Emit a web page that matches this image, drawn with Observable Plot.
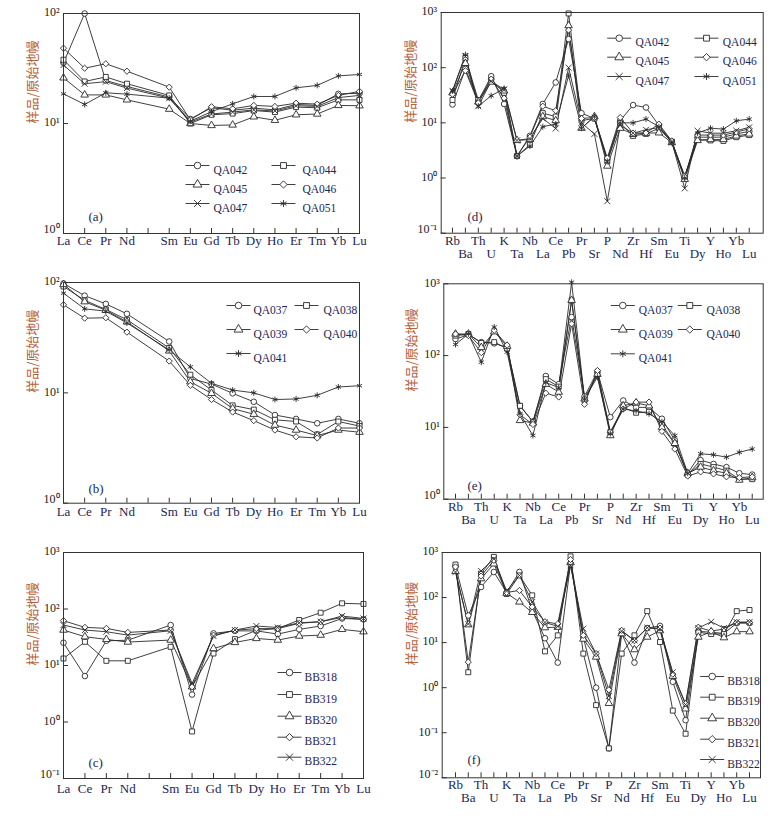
<!DOCTYPE html>
<html><head><meta charset="utf-8">
<script src="https://cdn.jsdelivr.net/npm/d3@7"></script>
<script src="https://cdn.jsdelivr.net/npm/@observablehq/plot@0.6"></script>
<style>
body{margin:0;background:#fff;}
#wrap{position:relative;width:781px;height:816px;background:#fff;overflow:hidden;}
#wrap svg{position:absolute;}
</style></head><body><div id="wrap"></div>
<script>
// ---------- category / tick labels ----------
const reeTicks = ["La","Ce","Pr","Nd","","Sm","Eu","Gd","Tb","Dy","Ho","Er","Tm","Yb","Lu"];
const reePos = [0,1,2,3,5,6,7,8,9,10,11,12,13,14];
const spiderTicks = ["Rb","Ba","Th","U","K","Ta","Nb","La","Ce","Pb","Pr","Sr","P","Nd","Zr","Hf","Sm","Eu","Ti","Dy","Y","Ho","Yb","Lu"];
const spiderPos = spiderTicks.map((d,i)=>i);
const yLabel = "样品/原始地幔";

// ---------- sample names ----------
const samplesQA1 = ["QA042","QA044","QA045","QA046","QA047","QA051"];
const samplesQA2 = ["QA037","QA038","QA039","QA040","QA041"];
const samplesBB = ["BB318","BB319","BB320","BB321","BB322"];
const symbols6 = ["circle","square","triangle","diamond2","times","asterisk"];
const symbols5a = ["circle","square","triangle","diamond2","asterisk"];
const symbols5b = ["circle","square","triangle","diamond2","times"];

// ---------- (a) REE, La..Lu (no Pm) ----------
const a_QA042 = [35.6,100,24.6,21.7,17.4,11.0,13.9,13.2,13.8,13.3,14.9,14.6,18.6,18.8];
const a_QA044 = [38,24.1,26.5,23.0,18.0,10.0,12.0,12.3,13.1,12.7,14.1,13.9,16.4,16.4];
const a_QA045 = [26,18.2,18.2,16.4,13.5,10.0,9.6,9.7,11.5,10.7,12.0,12.2,14.6,14.5];
const a_QA046 = [48.4,31.8,34.9,29.9,21.4,10.8,14.2,13.6,14.6,14.3,15.3,15.0,18.0,19.6];
const a_QA047 = [34,23,24,21,17,10.3,12.2,12.7,13.3,13.0,14.5,14.3,17.2,18.0];
const a_QA051 = [18.6,14.9,19.0,18.5,17.0,10.5,12.8,15.1,17.6,17.6,21.1,22.2,27.1,27.9];

// ---------- (b) REE ----------
const b_QA037 = [98,76,64,52,29.2,13.5,12.0,9.9,8.3,6.3,5.8,5.3,5.8,5.3];
const b_QA038 = [92,69,57,46,25.5,14.6,10.6,7.7,7.05,5.7,5.5,4.2,5.5,5.0];
const b_QA039 = [96,67,56,44,24,12.6,9.9,7.2,6.4,5.1,4.6,4.1,4.6,4.4];
const b_QA040 = [62.8,47.5,47.9,35.5,19.4,11.7,8.7,6.7,5.6,4.6,4.0,3.9,4.8,4.8];
const b_QA041 = [80,57.7,55,43,24.5,17.2,12.2,10.6,10.0,8.7,8.8,9.5,11.3,11.6];

// ---------- (c) REE ----------
const c_BB318 = [25.3,6.5,27.4,28,52,3.06,37,41,41,36,43.6,50,68,65.6];
const c_BB319 = [13.3,26.3,12.1,12.1,21.4,0.68,16.3,29.3,42,45,63.8,86,126,123];
const c_BB320 = [42.4,32.3,29,26,28.2,4.2,20,25.6,30.1,28.2,33.2,34.5,43.6,39.6];
const c_BB321 = [62,47.3,45.4,38.5,42.4,4.2,34.5,42,45,45,55.7,59.6,71,65];
const c_BB322 = [52,42.4,39.6,34.5,41.2,4.8,33.2,42.4,50,47,57,59.6,75,68];

// ---------- (d) spider, Rb..Lu ----------
const d_QA042 = [21.5,95,25,70,22,2.5,5.8,22,54,330,15,12,2.2,11,21,19,9,4.6,1.0,5.5,5.5,5.5,6.3,7];
const d_QA044 = [26,150,26,60,35,2.5,4.0,15,13,960,11,12,2.0,10,5.8,6.3,8,4.5,1.1,5.0,4.8,4.7,5.5,6];
const d_QA045 = [35,120,24,55,38,4.8,5.0,13,11,580,8,13,1.65,8,6.2,6.5,6.6,4.4,0.95,4.8,5.0,5.0,5.8,6.3];
const d_QA046 = [33,88,23,62,28,2.5,5.5,20,16.6,480,12,12.5,2.3,12.5,6.5,6.6,9.5,4.7,1.05,6.0,6.0,6.0,6.8,7.8];
const d_QA047 = [38,160,20,57,40,4.8,5.2,12,7.9,100,10,6.3,0.38,9,6.5,7.5,8.2,4.5,0.65,7.2,6.5,6.5,7.2,8.3];
const d_QA051 = [38,172,20,31,42,2.5,3.8,8.5,9.5,72,8,13,2.0,10,10,11.7,8.5,4.4,1.0,6.5,8.0,7.7,10.9,11.7];

// ---------- (e) spider ----------
const e_QA037 = [170,195,154,148,130,20,12,52,40,344,27,60,13.9,23.7,19,19,13.2,6.6,2.2,3.5,3.1,2.8,2.3,2.2];
const e_QA038 = [190,200,150,154,125,20,12,47,37,586,24,55,8.6,19,16,16.5,11,6,2.2,3.1,2.8,2.5,1.9,1.9];
const e_QA039 = [200,200,130,215,135,12.5,11.5,40,31,590,25,55,7.7,20,22,20,10,6,2.3,2.8,2.5,2.3,1.85,2.0];
const e_QA040 = [200,190,110,225,140,15,11,30,26.5,277,21,62,8.6,18,22.5,22.5,8.8,5.0,2.1,2.4,2.25,2.05,2.0,2.05];
const e_QA041 = [143,200,81,250,112,15.5,7.7,42,36,1050,25,50,8.2,18,17,15.5,12,7.7,2.3,4.3,4.15,3.85,4.5,5.0];

// ---------- (f) spider ----------
const f_BB318 = [500,40,171,369,130,370,52,12.5,3.6,560,13,1.0,0.045,16,3.6,21,23.5,1.35,0.19,17.8,17,16,27,27];
const f_BB319 = [540,2.2,340,800,120,310,112,6.4,14.5,820,5.7,0.41,0.045,5.7,14.5,50,10.3,0.31,0.095,17,15.5,15.5,50,53];
const f_BB320 = [380,25,263,560,125,80,47,21.5,22,600,12,4.8,0.45,15.8,7.0,13.3,18.5,1.8,0.34,13.3,17.5,12.9,17.5,17.5];
const f_BB321 = [480,3.7,300,670,130,144,62,29,26,700,14.5,5.7,0.9,18.7,11,21,21,2.0,0.44,22,18,20,28,28];
const f_BB322 = [370,26,390,720,140,310,80,28,23,520,20.4,5.7,0.65,18,11.2,21.4,20,2.2,0.42,21,29,21,28.6,28.6];

// ---------- styling ----------
const INK = "#2a2a2a";
const NAVY = "#1d2650";
const LABELC = "#b4643c";
const SERIF = "'Liberation Serif','Times New Roman',serif";
const hline = {draw(ctx){ ctx.moveTo(-12,0); ctx.lineTo(12,0); }};
function sup(v){
  const m = {"-":"⁻","0":"⁰","1":"¹","2":"²","3":"³"};
  return "10" + String(Math.round(Math.log10(v))).split("").map(c=>m[c]).join("");
}

function panel(cfg){
  const {box, frame} = cfg;
  const mL = frame.l - box.x, mR = box.x + box.w - frame.r, mT = frame.t - box.y, mB = box.y + box.h - frame.b;
  const rows = [];
  cfg.series.forEach((vals, s) => vals.forEach((v,k) => rows.push({sample: cfg.names[s], i: cfg.pos[k], v})));
  const ticks = cfg.tickLabels.map((t,i)=>({t,i})).filter(d=>d.t);
  const yMin = cfg.yTicks[0];
  const marks = [
    Plot.line(rows, {x:"i", y:"v", z:"sample", stroke:INK, strokeWidth:0.9}),
    Plot.dot(rows, {x:"i", y:"v", symbol:"sample", r:2.8, stroke:INK, strokeWidth:0.9, fill:"white"}),
    Plot.frame({stroke:"#333", strokeWidth:1}),
    Plot.axisX({ticks: d3.range(cfg.tickLabels.length), tickSize:-5, tickFormat:()=>"", label:null, color:"#333"}),
    Plot.axisY({ticks: cfg.yTicks, tickSize:-5, tickFormat:()=>"", label:null, color:"#333"}),
    Plot.text(cfg.yTicks.filter(t=>t!==yMin), {y:d=>d, text:sup, frameAnchor:"left", dx:-4, dy:-1, textAnchor:"end", fontSize:12, fill:"#222"}),
    Plot.text([yMin], {y:d=>d, text:sup, frameAnchor:"left", dx:-4, dy:-4, textAnchor:"end", fontSize:12, fill:"#222"}),
    Plot.text([yLabel], {frameAnchor:"left", dx:cfg.yLabelDx, rotate:-90, text:d=>d, fontSize:13, fill:LABELC, fontFamily:"'Noto Sans CJK SC',sans-serif"}),
    Plot.text([cfg.letter], {frameAnchor:"top-left", dx:cfg.letterPos[0]-frame.l, dy:cfg.letterPos[1]-frame.t, text:d=>d, fontSize:13, fill:NAVY})
  ];
  if (cfg.twoRow){
    marks.push(Plot.text(ticks.filter(d=>d.i%2===0), {x:"i", text:"t", frameAnchor:"bottom", dy:cfg.labelDy, fontSize:13, fill:NAVY}));
    marks.push(Plot.text(ticks.filter(d=>d.i%2===1), {x:"i", text:"t", frameAnchor:"bottom", dy:cfg.labelDy2, fontSize:13, fill:NAVY}));
  } else {
    marks.push(Plot.text(ticks, {x:"i", text:"t", frameAnchor:"bottom", dy:cfg.labelDy, fontSize:13, fill:NAVY}));
  }
  const nc = cfg.legend.cols.length;
  cfg.names.forEach((name, s) => {
    const col = cfg.legend.cols[s % nc], rowY = cfg.legend.rows[Math.floor(s / nc)];
    const dx = col[0] - frame.l, dy = rowY - frame.t;
    marks.push(Plot.dot([0], {frameAnchor:"top-left", dx, dy, symbol:hline, r:3, stroke:INK, strokeWidth:0.9, fill:"none"}));
    marks.push(Plot.dot([0], {frameAnchor:"top-left", dx, dy, symbol:cfg.symbols[s], r:3.3, stroke:INK, strokeWidth:0.9, fill:"white"}));
    marks.push(Plot.text([name], {frameAnchor:"top-left", dx:col[1]-frame.l, dy, text:d=>d, textAnchor:"start", fontSize:11.5, fill:NAVY}));
  });
  const svg = Plot.plot({
    width: box.w, height: box.h,
    marginLeft: mL, marginRight: mR, marginTop: mT, marginBottom: mB,
    x: {domain: cfg.xDomain, axis: null},
    y: {type: "log", domain: cfg.yDomain, axis: null},
    symbol: {domain: cfg.names, range: cfg.symbols},
    style: {fontFamily: SERIF, background: "white", overflow: "visible"},
    marks
  });
  svg.style.left = box.x + "px";
  svg.style.top = box.y + "px";
  document.getElementById("wrap").appendChild(svg);
}

panel({
  box:{x:0,y:0,w:390,h:270}, frame:{l:63,r:359,t:13,b:233},
  xDomain:[0,14], yDomain:[1,100], yTicks:[1,10,100],
  tickLabels: reeTicks, pos: reePos, labelDy:11.5,
  names: samplesQA1, symbols: symbols6,
  series:[a_QA042,a_QA044,a_QA045,a_QA046,a_QA047,a_QA051],
  yLabelDx:-31, letter:"(a)", letterPos:[88,211],
  legend:{cols:[[197,213],[283,302]], rows:[165,184,203]}
});
panel({
  box:{x:0,y:270,w:390,h:270}, frame:{l:63,r:359,t:282,b:502.7},
  xDomain:[0,14], yDomain:[1,100], yTicks:[1,10,100],
  tickLabels: reeTicks, pos: reePos, labelDy:12.3,
  names: samplesQA2, symbols: symbols5a,
  series:[b_QA037,b_QA038,b_QA039,b_QA040,b_QA041],
  yLabelDx:-31, letter:"(b)", letterPos:[88,483],
  legend:{cols:[[238,253],[306,323]], rows:[305,329,353]}
});
panel({
  box:{x:0,y:540,w:390,h:276}, frame:{l:63,r:363,t:552,b:778},
  xDomain:[0,14], yDomain:[0.1,1000], yTicks:[0.1,1,10,100,1000],
  tickLabels: reeTicks, pos: reePos, labelDy:14,
  names: samplesBB, symbols: symbols5b,
  series:[c_BB318,c_BB319,c_BB320,c_BB321,c_BB322],
  yLabelDx:-31, letter:"(c)", letterPos:[88,757],
  legend:{cols:[[289,304]], rows:[672,694,715.7,736.7,756.7]}
});
panel({
  box:{x:390,y:0,w:391,h:270}, frame:{l:440.7,r:762.7,t:12,b:232.7},
  xDomain:[-0.876,24.085], yDomain:[0.1,1000], yTicks:[0.1,1,10,100,1000],
  tickLabels: spiderTicks, pos: spiderPos, twoRow:true, labelDy:11.5, labelDy2:24.5,
  names: samplesQA1, symbols: symbols6,
  series:[d_QA042,d_QA044,d_QA045,d_QA046,d_QA047,d_QA051],
  yLabelDx:-30.7, letter:"(d)", letterPos:[467,211],
  legend:{cols:[[618.7,635],[706,722.3]], rows:[37.7,56.7,76]}
});
panel({
  box:{x:390,y:270,w:391,h:270}, frame:{l:443.3,r:762.7,t:283.3,b:498.7},
  xDomain:[-0.907,23.85], yDomain:[1,1000], yTicks:[1,10,100,1000],
  tickLabels: spiderTicks, pos: spiderPos, twoRow:true, labelDy:11.5, labelDy2:25,
  names: samplesQA2, symbols: symbols5a,
  series:[e_QA037,e_QA038,e_QA039,e_QA040,e_QA041],
  yLabelDx:-31.6, letter:"(e)", letterPos:[467,480],
  legend:{cols:[[622.3,638.3],[689.3,706]], rows:[305,329,353.3]}
});
panel({
  box:{x:390,y:540,w:391,h:276}, frame:{l:441.7,r:760,t:552,b:777.3},
  xDomain:[-1.04,23.86], yDomain:[0.01,1000], yTicks:[0.01,0.1,1,10,100,1000],
  tickLabels: spiderTicks, pos: spiderPos, twoRow:true, labelDy:11, labelDy2:24.4,
  names: samplesBB, symbols: symbols5b,
  series:[f_BB318,f_BB319,f_BB320,f_BB321,f_BB322],
  yLabelDx:-30, letter:"(f)", letterPos:[467,754],
  legend:{cols:[[711.7,726.7]], rows:[676,696.7,717.7,738.7,759]}
});
</script></body></html>
